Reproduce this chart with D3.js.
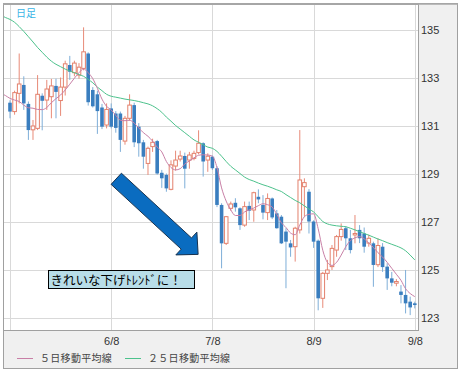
<!DOCTYPE html>
<html>
<head>
<meta charset="utf-8">
<script src="https://cdn.jsdelivr.net/npm/d3@7"></script>
<style>
  body { margin: 0; background: #fff; }
  svg { display: block; }
  text { font-family: "Liberation Sans", Arial, sans-serif; }
  .jp { font-family: "Noto Sans CJK JP", sans-serif; }
</style>
</head>
<body>
<div id="chart"></div>
<script>
// daily candles, index 0 = first visible day
const opens  = [131.95,131.58,132.34,132.69,131.9,130.82,130.88,132.24,132.06,132.2,
                132.65,132.04,132.6,133.52,133.2,133.1,133.38,134.0,132.48,132.3,
                131.75,131.02,131.71,131.5,131.5,130.35,131.3,131.85,130.95,130.3,
                129.42,130.12,130.35,129.03,128.94,128.34,129.31,129.6,129.73,129.56,
                129.63,129.87,130.26,129.56,129.7,129.22,127.69,126.09,127.55,127.78,
                127.55,126.85,127.65,127.48,128.03,127.69,127.37,127.96,127.34,127.2,
                126.58,126.09,125.95,126.65,128.45,128.24,127.0,126.2,123.8,124.84,
                125.12,125.81,126.37,126.72,126.3,126.44,126.65,126.5,126.1,126.09,
                125.2,125.95,125.12,124.63,124.43,124.08,123.94,123.66,123.59];
const highs  = [132.05,132.45,134.0,133.05,132.0,131.23,133.1,132.34,132.9,132.94,
                132.95,133.0,133.7,133.9,133.7,133.6,135.09,134.05,132.6,132.45,
                131.9,131.92,131.92,131.6,131.58,131.4,132.3,131.95,131.1,130.4,
                130.12,130.45,130.4,129.15,129.0,129.55,129.95,129.95,129.87,129.9,
                129.95,130.8,130.3,129.84,129.75,129.3,127.76,127.23,127.83,127.97,
                127.59,127.83,127.83,128.24,128.34,128.1,128.17,128.0,127.48,127.27,
                126.72,126.23,126.78,130.81,128.8,128.35,127.05,126.25,124.9,125.4,
                126.02,126.44,126.92,126.81,126.65,127.27,126.85,126.75,126.45,126.16,
                126.3,126.1,125.26,124.9,124.6,124.35,124.98,123.87,123.66];
const lows   = [131.3,131.45,131.92,131.65,130.4,130.4,130.81,130.8,131.65,131.3,
                131.3,131.4,132.25,132.9,133.05,132.95,133.3,131.83,131.75,130.65,
                130.85,130.88,130.88,130.7,129.9,130.2,131.2,130.1,129.7,129.2,
                128.94,129.9,128.95,128.4,128.24,128.3,129.12,129.5,128.38,129.2,
                129.55,129.8,128.87,129.07,129.15,127.6,125.05,126.02,127.45,127.41,
                126.65,126.78,127.06,126.99,127.76,127.09,127.06,127.1,126.7,126.06,
                124.22,125.53,125.33,126.5,127.2,126.5,125.9,123.3,123.4,124.56,
                124.98,125.53,126.2,125.81,125.67,126.09,126.1,125.7,125.95,124.28,
                125.1,124.9,124.15,124.3,124.3,123.59,123.17,123.1,123.38];
const closes = [131.58,132.37,132.73,131.92,130.81,130.98,132.3,132.03,132.52,132.65,
                132.4,132.6,133.57,133.24,133.6,133.43,134.07,131.97,131.8,131.6,
                130.95,131.67,130.95,130.9,130.4,131.3,131.85,130.3,130.26,129.7,
                130.05,130.3,129.0,128.8,128.38,129.36,129.56,129.73,129.2,129.77,
                129.84,130.26,129.5,129.72,129.22,127.69,126.09,127.2,127.73,127.59,
                126.85,127.62,127.45,128.2,127.92,127.37,127.96,127.17,126.72,126.09,
                126.16,125.92,126.72,128.73,128.62,127.0,126.16,123.8,124.84,124.98,
                125.88,126.37,126.67,126.3,125.81,126.5,126.3,125.95,126.3,125.19,
                126.0,125.1,124.63,124.45,124.5,123.94,123.59,123.42,123.52];

// moving averages, first value belongs to index -2 (left of the first candle)
const ma5  = [132.35,132.25,132.13,132.06,132.0,131.85,131.74,131.72,131.67,131.66,131.75,131.95,
              132.12,132.27,132.48,132.72,132.97,133.2,133.36,133.2,132.95,132.55,
              132.1,131.8,131.65,131.42,131.22,131.2,131.22,131.1,130.9,130.7,
              130.55,130.35,130.1,129.9,129.5,129.25,129.15,129.2,129.4,129.52,
              129.65,129.76,129.78,129.77,129.72,129.25,128.4,127.85,127.48,127.25,
              127.25,127.4,127.48,127.56,127.66,127.74,127.7,127.6,127.3,126.95,
              126.75,126.52,126.45,126.85,127.2,127.3,127.32,126.7,125.8,125.3,
              125.17,125.3,125.6,125.95,126.2,126.32,126.37,126.28,126.1,125.92,
              125.7,125.52,125.3,125.05,124.8,124.55,124.2,124.0,123.87];
const ma25 = [135.6,135.5,135.42,135.3,135.12,134.92,134.7,134.48,134.25,134.05,133.85,133.68,
              133.55,133.45,133.35,133.27,133.2,133.12,133.05,132.92,132.78,132.6,
              132.45,132.3,132.22,132.18,132.14,132.1,132.07,132.04,132.0,131.95,
              131.9,131.82,131.7,131.55,131.35,131.18,131.0,130.85,130.7,130.55,
              130.4,130.3,130.2,130.1,130.05,129.92,129.72,129.5,129.3,129.15,
              129.0,128.85,128.75,128.68,128.6,128.53,128.47,128.4,128.32,128.25,
              128.12,128.0,127.88,127.78,127.65,127.52,127.4,127.2,127.0,126.9,
              126.85,126.82,126.8,126.78,126.72,126.65,126.58,126.5,126.43,126.35,
              126.27,126.2,126.12,126.05,125.98,125.9,125.78,125.6,125.4];
const maStart = -2;

const yTicks = [123, 125, 127, 129, 131, 133, 135];
const gridIdx = [0, 22, 44, 66, 88];
const xLabels = ["", "6/8", "7/8", "8/9", "9/8"];

const width = 462, height = 373;
const plot = { left: 3, top: 4, right: 418, bottom: 330 };

const svg = d3.select('#chart').append('svg')
  .attr('width', width)
  .attr('height', height);

const x = d3.scaleLinear().domain([-1.52, 88.7]).range([plot.left, plot.right]);
const y = d3.scaleLinear().domain([123, 135]).range([317.5, 29.5]);

// frame and panels
svg.append('rect').attr('x', 3.5).attr('y', 3.5).attr('width', 454).attr('height', 365)
  .attr('fill', '#f0f0f0').attr('stroke', '#a0a0a0');
svg.append('rect').attr('x', plot.left + 0.5).attr('y', plot.top + 0.5)
  .attr('width', plot.right - plot.left).attr('height', plot.bottom - plot.top)
  .attr('fill', '#fff').attr('stroke', '#a0a0a0');
svg.append('line').attr('x1', 3).attr('x2', 458).attr('y1', 4).attr('y2', 4)
  .attr('stroke', '#a8a8a8').attr('stroke-width', 1.5);

svg.append('clipPath').attr('id', 'clip').append('rect')
  .attr('x', plot.left + 1).attr('y', plot.top + 1)
  .attr('width', plot.right - plot.left - 1).attr('height', plot.bottom - plot.top - 1);

const g = svg.append('g').attr('clip-path', 'url(#clip)');

// gridlines
g.selectAll('.hgrid').data(yTicks).enter().append('line')
  .attr('x1', plot.left).attr('x2', plot.right)
  .attr('y1', d => Math.round(y(d)) + 0.5).attr('y2', d => Math.round(y(d)) + 0.5)
  .attr('stroke', '#d9d9d9');
g.selectAll('.vgrid').data(gridIdx).enter().append('line')
  .attr('y1', plot.top).attr('y2', plot.bottom)
  .attr('x1', d => Math.round(x(d)) + 0.5).attr('x2', d => Math.round(x(d)) + 0.5)
  .attr('stroke', '#d9d9d9');

// candles
const candles = d3.range(opens.length);
const bw = 3.6;
const up = i => closes[i] >= opens[i];

g.selectAll('.wick').data(candles).enter().append('line')
  .attr('x1', i => x(i)).attr('x2', i => x(i))
  .attr('y1', i => y(highs[i])).attr('y2', i => y(lows[i]))
  .attr('stroke', i => up(i) ? '#e88a78' : '#7eaed8')
  .attr('stroke-width', 1);

g.selectAll('.body').data(candles).enter().append('rect')
  .attr('x', i => x(i) - bw / 2)
  .attr('y', i => y(Math.max(opens[i], closes[i])))
  .attr('width', bw)
  .attr('height', i => Math.max(1, Math.abs(y(opens[i]) - y(closes[i]))))
  .attr('fill', i => up(i) ? '#fff' : '#3a7ebf')
  .attr('stroke', i => up(i) ? '#e3806c' : 'none')
  .attr('stroke-width', 1);

// moving averages
const maLine = d3.line()
  .x((d, i) => x(i + maStart))
  .y(d => y(d))
  .curve(d3.curveMonotoneX);

g.append('path').datum(ma25).attr('d', maLine)
  .attr('fill', 'none').attr('stroke', '#4cc28c').attr('stroke-width', 1);
g.append('path').datum(ma5).attr('d', maLine)
  .attr('fill', 'none').attr('stroke', '#c87fa6').attr('stroke-width', 1);

// axes
const yAxis = d3.axisRight(y).tickValues(yTicks).tickSize(0).tickPadding(3);
svg.append('g').attr('transform', `translate(${plot.right}, 0)`).call(yAxis)
  .call(a => a.select('.domain').remove())
  .selectAll('text')
  .attr('font-size', 11).attr('fill', '#333')
  .attr('font-family', '"Liberation Sans", Arial, sans-serif');

const xAxis = d3.axisBottom(x).tickValues(gridIdx)
  .tickFormat((d, i) => xLabels[i]).tickSize(0).tickPadding(7);
svg.append('g').attr('transform', `translate(0, ${plot.bottom})`).call(xAxis)
  .call(a => a.select('.domain').remove())
  .selectAll('text')
  .attr('font-size', 11).attr('fill', '#333')
  .attr('font-family', '"Liberation Sans", Arial, sans-serif');

// title tag
svg.append('text').attr('class', 'jp').attr('x', 16).attr('y', 17)
  .attr('font-size', 10).attr('fill', '#3ab4e6').text('日足');

// legend
const legend = [
  { label: '５日移動平均線', color: '#c87fa6', x: 17 },
  { label: '２５日移動平均線', color: '#4cc28c', x: 125 }
];
const lg = svg.selectAll('.legend').data(legend).enter().append('g');
lg.append('line')
  .attr('x1', d => d.x).attr('x2', d => d.x + 16)
  .attr('y1', 358.5).attr('y2', 358.5)
  .attr('stroke', d => d.color);
lg.append('text').attr('class', 'jp')
  .attr('x', d => d.x + 23).attr('y', 362)
  .attr('font-size', 10).attr('letter-spacing', 0.3).attr('fill', '#444')
  .text(d => d.label);

// annotation arrow, placed in data space
const arrowFrom = [23.1, 128.78], arrowTo = [40.9, 125.63];
const sx = x(arrowFrom[0]), sy = y(arrowFrom[1]);
const tx = x(arrowTo[0]), ty = y(arrowTo[1]);
const len = Math.hypot(tx - sx, ty - sy);
const ux = (tx - sx) / len, uy = (ty - sy) / len;
const nx = -uy, ny = ux;
const hw = 7.6, hh = 15.5, hl = 16;
const bx = tx - ux * hl, by = ty - uy * hl;
const pts = [
  [sx + nx * hw, sy + ny * hw], [bx + nx * hw, by + ny * hw], [bx + nx * hh, by + ny * hh],
  [tx, ty],
  [bx - nx * hh, by - ny * hh], [bx - nx * hw, by - ny * hw], [sx - nx * hw, sy - ny * hw]
];
svg.append('path')
  .attr('d', 'M' + pts.map(p => p.join(',')).join('L') + 'Z')
  .attr('fill', '#0a6cc0').attr('stroke', '#17324f').attr('stroke-width', 1);

// annotation text box
const boxX = Math.round(x(8.37)) + 0.5, boxY = Math.round(y(125)) + 0.5;
svg.append('rect').attr('x', boxX).attr('y', boxY).attr('width', 146).attr('height', 18)
  .attr('fill', '#b8dde8').attr('stroke', '#000');
svg.append('text').attr('class', 'jp').attr('x', boxX + 2).attr('y', boxY + 14)
  .attr('font-size', 12.5).attr('fill', '#000')
  .text('きれいな下げﾄﾚﾝﾄﾞに！');
</script>
</body>
</html>
